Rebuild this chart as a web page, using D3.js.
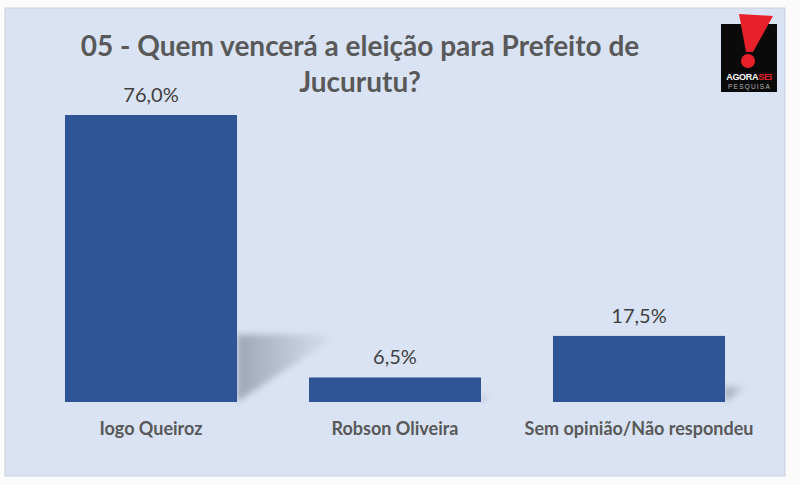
<!DOCTYPE html>
<html><head><meta charset="utf-8">
<script src="https://cdn.jsdelivr.net/npm/d3@7"></script>
<style>body{margin:0;background:#fff;}svg{display:block;}</style>
</head><body>
<script>
const categories = ["Iogo Queiroz", "Robson Oliveira", "Sem opinião/Não respondeu"];
const values = [76.0, 6.5, 17.5];
const valueLabels = ["76,0%", "6,5%", "17,5%"];
const titleLines = ["05 - Quem vencerá a eleição para Prefeito de", "Jucurutu?"];

const W = 800, H = 485;
const FONT = "Lato, 'Liberation Sans', sans-serif";
const svg = d3.select("body").append("svg").attr("width", W).attr("height", H);
const defs = svg.append("defs");

svg.append("rect").attr("x",0).attr("y",0).attr("width",W).attr("height",H).attr("fill","#fbfbfb");
svg.append("rect").attr("x",5).attr("y",8).attr("width",780).attr("height",468)
  .attr("fill","#dae3f3").attr("stroke","#c9cfd8").attr("stroke-width",1);

const x = d3.scaleBand().domain(categories).range([29, 761]).paddingInner(72/244).paddingOuter(36/244);
const y = d3.scaleLinear().domain([0, 76]).range([402, 115]);

// shadow gradient
const g = defs.append("linearGradient").attr("id","sh").attr("x1","0").attr("y1","0").attr("x2","1").attr("y2","0");
g.append("stop").attr("offset","0").attr("stop-color","#8a93a3").attr("stop-opacity",0.75);
g.append("stop").attr("offset","1").attr("stop-color","#8a93a3").attr("stop-opacity",0);
const blur = defs.append("filter").attr("id","bl").attr("x","-20%").attr("y","-20%").attr("width","140%").attr("height","140%");
blur.append("feGaussianBlur").attr("stdDeviation",3);

const shadowG = svg.append("g").attr("filter","url(#bl)");
categories.forEach((c,i)=>{
  const x0 = x(c) + x.bandwidth();
  const hgt = y(0) - y(values[i]);
  const sh = hgt * 0.235;
  const dx = sh * 1.5;
  shadowG.append("path")
    .attr("d", `M${x0},${y(0)} L${x0+dx},${y(0)-sh} L${x0},${y(0)-sh} Z`)
    .attr("fill","url(#sh)");
});

svg.append("g").selectAll("rect").data(categories).join("rect")
  .attr("x", d=>x(d)).attr("width", x.bandwidth())
  .attr("y", (d,i)=>y(values[i])).attr("height", (d,i)=>y(0)-y(values[i]))
  .attr("fill","#2f5597");

svg.append("g").selectAll("text").data(categories).join("text")
  .attr("x", d=>x(d)+x.bandwidth()/2).attr("y", (d,i)=>y(values[i])-13)
  .attr("text-anchor","middle").attr("font-family",FONT)
  .attr("font-size",20).attr("fill","#404040").text((d,i)=>valueLabels[i]);

const xAxis = svg.append("g").attr("transform","translate(0,402)")
  .call(d3.axisBottom(x).tickSize(0).tickPadding(20));
xAxis.select(".domain").remove();
xAxis.selectAll("text").attr("font-family",FONT)
  .attr("font-size",18).attr("font-weight","bold").attr("fill","#595959");

svg.append("g").selectAll("text").data(titleLines).join("text")
  .attr("x", 360).attr("y",(d,i)=>56+i*36).attr("text-anchor","middle")
  .attr("font-family",FONT)
  .attr("font-size",28).attr("font-weight","bold").attr("fill","#595959").text(d=>d);

// logo
const lg = svg.append("g").attr("transform","translate(721,24)");
lg.append("rect").attr("width",56).attr("height",68).attr("fill","#0a0a0a");
lg.append("path").attr("d","M18,-10 L52,-8 L32,28 L25,28 Z").attr("fill","#e8202a");
lg.append("circle").attr("cx",27).attr("cy",37).attr("r",7).attr("fill","#e8202a");
lg.append("text").attr("x",28).attr("y",56).attr("text-anchor","middle")
  .attr("font-family","'Liberation Sans', sans-serif").attr("font-weight","bold").attr("font-size",9)
  .attr("letter-spacing",-0.3).attr("fill","#fff").text("AGORA").append("tspan").attr("fill","#e8202a").text("SEI");
lg.append("text").attr("x",28.5).attr("y",65).attr("text-anchor","middle")
  .attr("font-family","'Liberation Sans', sans-serif").attr("font-size",6.5).attr("letter-spacing",1.2)
  .attr("fill","#b5b5b5").text("PESQUISA");
</script>
</body></html>
